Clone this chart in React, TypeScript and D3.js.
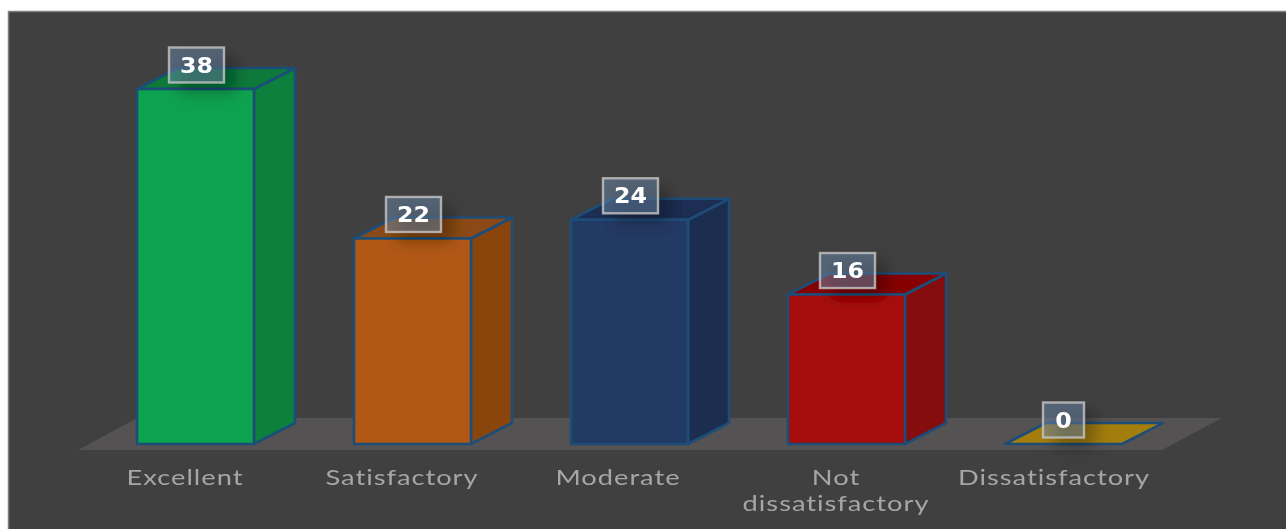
import React from "react";
import * as d3 from "d3";

const categories = ["Excellent", "Satisfactory", "Moderate", "Not dissatisfactory", "Dissatisfactory"];
const values = [38, 22, 24, 16, 0];
const frontColors = ["#09a24e", "#b25813", "#243a65", "#a80707", "#a37e0a"];
const sideColors = ["#08803e", "#8a4410", "#1b2d50", "#850707", "#a37e0a"];
const topColors = ["#087a3b", "#8a4a12", "#1b2d52", "#860606", "#a37e0a"];
const labelLines = [["Excellent"], ["Satisfactory"], ["Moderate"], ["Not", "dissatisfactory"], ["Dissatisfactory"]];
const labelOffsets = [48, 48, 47, 48, 49];

const gap = 100 / 217;
const x = d3.scaleBand<string>().domain(categories).range([87, 1172]).paddingInner(gap).paddingOuter(gap / 2);
const y = d3.scaleLinear().domain([0, 38]).range([444, 89]);
const depthX = 41;
const depthY = -21;
const line = d3.line();

type P = [number, number];
const closed = (pts: P[]) => line(pts) + "Z";

export default function App() {
  const w = x.bandwidth();
  return (
    <svg width={1286} height={529} style={{ position: "absolute", left: 0, top: 0, display: "block" }}
      fontFamily="Lato, 'Open Sans', sans-serif">
      <defs>
        <filter id="boxShadow" x="-60%" y="-60%" width="220%" height="220%">
          <feGaussianBlur stdDeviation="8" />
        </filter>
        <filter id="soft" x="-5%" y="-5%" width="110%" height="110%">
          <feGaussianBlur stdDeviation="0.6" />
        </filter>
      </defs>
      <rect x={8.5} y={11.5} width={1290} height={530} fill="#404040" stroke="#7f7f7f" strokeWidth={1.5} />
      {/* floor of the 3D plot */}
      <path d={closed([[78, 450], [1162, 450], [1222, 418], [137, 418]])} fill="#545252" />

      <g filter="url(#soft)">
        {categories.map((c, i) => {
          const x0 = x(c)!;
          const x1 = x0 + w;
          const yt = y(values[i]);
          const yb = y(0);
          const stroke = "#1f4e79";
          const edge = { stroke, strokeWidth: 2.6, strokeLinejoin: "round" as const };
          if (values[i] === 0) {
            return (
              <path key={c} d={closed([[x0, yb], [x1, yb], [x1 + depthX, yb + depthY], [x0 + depthX, yb + depthY]])}
                fill={frontColors[i]} {...edge} />
            );
          }
          return (
            <g key={c}>
              <path d={closed([[x1, yt], [x1 + depthX, yt + depthY], [x1 + depthX, yb + depthY], [x1, yb]])}
                fill={sideColors[i]} {...edge} />
              <path d={closed([[x0, yt], [x0 + depthX, yt + depthY], [x1 + depthX, yt + depthY], [x1, yt]])}
                fill={topColors[i]} {...edge} />
              <path d={closed([[x0, yt], [x1, yt], [x1, yb], [x0, yb]])} fill={frontColors[i]} {...edge} />
            </g>
          );
        })}

        {categories.map((c, i) => {
          const text = String(values[i]);
          const bw = text.length > 1 ? 55 : 41;
          const cx = x(c)! + w / 2 + 1 + (i === 4 ? -1 : 0);
          const cy = y(values[i]) - 24;
          return (
            <g key={c}>
              <rect x={cx - bw / 2 + 11} y={cy - 17 + 9} width={bw} height={35} fill="#000" fillOpacity={0.3} filter="url(#boxShadow)" />
              <rect x={cx - bw / 2} y={cy - 17.5} width={bw} height={35} fill="#6b8aab" fillOpacity={0.5}
                stroke="#bfbfbf" strokeOpacity={0.85} strokeWidth={2.4} />
              <text x={cx} y={cy + 7.5} textAnchor="middle" fontSize={22} fontWeight={700} fill="#fff"
                fontFamily="'DejaVu Sans', sans-serif" textLength={text.length * 16.5} lengthAdjust="spacingAndGlyphs">{text}</text>
            </g>
          );
        })}

        {categories.map((c, i) =>
          labelLines[i].map((t, j) => (
            <text key={t} transform={`translate(${x(c)! + labelOffsets[i]},${485 + j * 25.5}) scale(1.3,1)`}
              textAnchor="middle" fontSize={21} letterSpacing={0.75} fill="#a6a6a6">{t}</text>
          ))
        )}
      </g>
    </svg>
  );
}
